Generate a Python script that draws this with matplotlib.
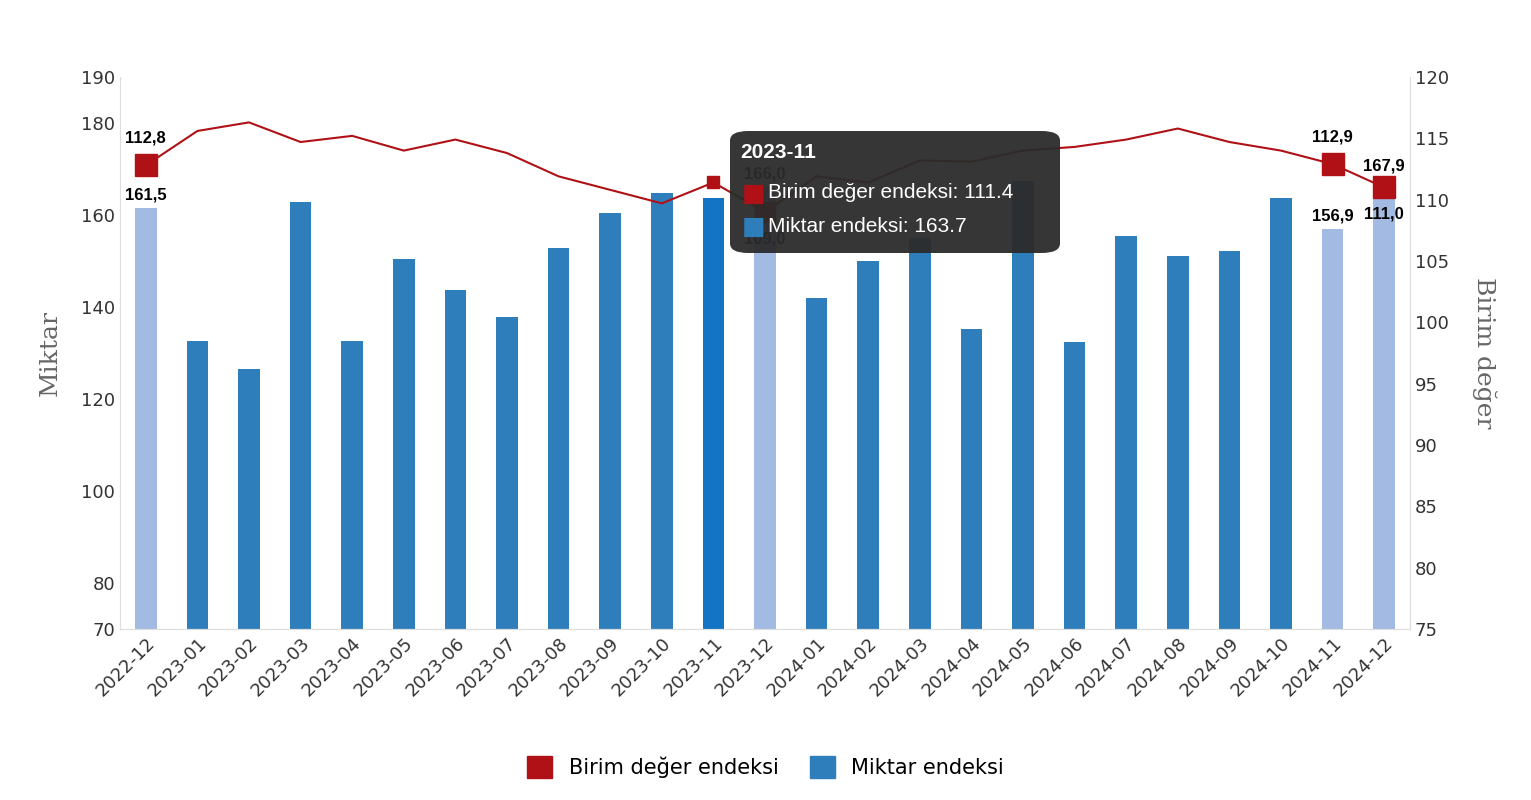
import numpy as np
import matplotlib.pyplot as plt
from matplotlib.patches import FancyBboxPatch

months = ["2022-12", "2023-01", "2023-02", "2023-03", "2023-04", "2023-05", "2023-06",
          "2023-07", "2023-08", "2023-09", "2023-10", "2023-11", "2023-12", "2024-01",
          "2024-02", "2024-03", "2024-04", "2024-05", "2024-06", "2024-07", "2024-08",
          "2024-09", "2024-10", "2024-11", "2024-12"]
miktar = [161.5, 132.6, 126.5, 162.8, 132.6, 150.4, 143.7, 137.8, 152.8, 160.4, 164.8,
          163.7, 166.0, 142.0, 150.0, 155.0, 135.2, 167.4, 132.4, 155.4, 151.1, 152.2,
          163.7, 156.9, 167.9]
birim = [112.8, 115.6, 116.3, 114.7, 115.2, 114.0, 114.9, 113.8, 111.9, 110.8, 109.7,
         111.4, 109.0, 111.9, 111.4, 113.2, 113.1, 114.0, 114.3, 114.9, 115.8, 114.7,
         114.0, 112.9, 111.0]
light = ["2022-12", "2023-12", "2024-11", "2024-12"]
hover = "2023-11"

RED = "#b01116"
BLUE = "#2f7ebc"
LIGHT = "#a3bbe3"
ARIAL = "Liberation Sans"

fig = plt.figure(figsize=(15.31, 8.0), dpi=100)
ax = fig.add_axes([120 / 1531, 1 - 629 / 800, 1290 / 1531, 552 / 800])
ax2 = ax.twinx()

x = np.arange(len(months))
colors = [LIGHT if m in light else ("#1374c6" if m == hover else BLUE) for m in months]
ax.bar(x, miktar, width=0.42, color=colors, bottom=0)
ax.set_ylim(70, 190)
ax.set_yticks([70, 80, 100, 120, 140, 160, 180, 190])
ax.set_xlim(-0.5, len(months) - 0.5)
ax.set_xticks(x)
ax.set_xticklabels(months, rotation=45, ha="right", rotation_mode="anchor")

ax2.plot(x, birim, color=RED, lw=1.5, zorder=3)
ax2.set_ylim(75, 120)
ax2.set_yticks(range(75, 121, 5))

for m in light:
    i = months.index(m)
    ax2.plot(i, birim[i], "s", color=RED, ms=16 if m != "2023-12" else 14, zorder=4)
    ax.annotate(f"{miktar[i]:.1f}".replace(".", ","), (i, miktar[i]), xytext=(0, 4),
                textcoords="offset points", ha="center", va="bottom",
                fontsize=12, fontweight="bold", fontfamily=ARIAL)
    below = m == "2024-12" or m == "2023-12"
    ax2.annotate(f"{birim[i]:.1f}".replace(".", ","), (i, birim[i]),
                 xytext=(0, -14 if below else 14), textcoords="offset points",
                 ha="center", va="top" if below else "bottom",
                 fontsize=12, fontweight="bold", fontfamily=ARIAL, zorder=5)
hi = months.index(hover)
ax2.plot(hi, birim[hi], "s", color=RED, ms=9, zorder=4)

for a in (ax, ax2):
    a.spines["top"].set_visible(False)
    for s in ("left", "right", "bottom"):
        a.spines[s].set_color("#dddddd")
    a.tick_params(length=0, labelsize=13, colors="#333333")
ax.set_ylabel("Miktar", fontfamily="serif", fontsize=18, color="#666666", labelpad=14)
ax2.set_ylabel("Birim değer", fontfamily="serif", fontsize=18, color="#666666",
               rotation=270, labelpad=34)

# tooltip
tip = FancyBboxPatch((730 / 1531, 1 - 253 / 800), 330 / 1531, 122 / 800,
                     boxstyle="round,pad=0,rounding_size=0.012", transform=fig.transFigure,
                     facecolor="#2b2b2b", alpha=0.95, edgecolor="none", zorder=10)
fig.patches.append(tip)
fig.text(740 / 1531, 1 - 152 / 800, hover, color="white", fontsize=15, fontweight="bold",
         fontfamily=ARIAL, va="center", zorder=11)
fig.text(742 / 1531, 1 - 194 / 800, "■", color=RED, fontsize=18, va="center", zorder=11)
fig.text(768 / 1531, 1 - 193 / 800, f"Birim değer endeksi: {birim[hi]}", color="white",
         fontsize=15, fontfamily=ARIAL, va="center", zorder=11)
fig.text(742 / 1531, 1 - 227 / 800, "■", color=BLUE, fontsize=18, va="center", zorder=11)
fig.text(768 / 1531, 1 - 226 / 800, f"Miktar endeksi: {miktar[hi]}", color="white",
         fontsize=15, fontfamily=ARIAL, va="center", zorder=11)

h1 = plt.Rectangle((0, 0), 1, 1, color=RED)
h2 = plt.Rectangle((0, 0), 1, 1, color=BLUE)
fig.legend([h1, h2], ["Birim değer endeksi", "Miktar endeksi"], loc="center",
           bbox_to_anchor=(0.5, 1 - 767 / 800), ncol=2, frameon=False, fontsize=15,
           handlelength=1.2, handleheight=1.2, columnspacing=1.5)

fig.savefig("out.png", dpi=100)
